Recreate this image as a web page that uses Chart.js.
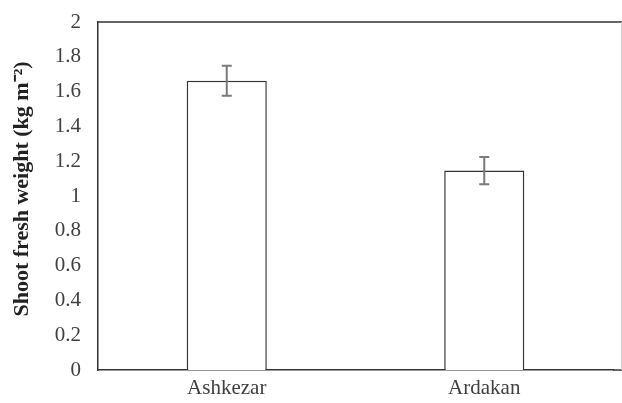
<!DOCTYPE html>
<html>
<head>
<meta charset="utf-8">
<script src="https://cdn.jsdelivr.net/npm/chart.js@4"></script>
<style>
html,body{margin:0;padding:0;background:#fff;}
#wrap{width:622px;height:403px;}
</style>
</head>
<body>
<div id="wrap"><canvas id="c"></canvas></div>
<script>
const sites = ["Ashkezar", "Ardakan"];
const weight = [1.662, 1.146];
const weightErr = [0.086, 0.078];
const yTicks = [0, 0.2, 0.4, 0.6, 0.8, 1, 1.2, 1.4, 1.6, 1.8, 2];
const yTitle = "Shoot fresh weight (kg m⁻²)";

const font = "'Liberation Serif', 'Times New Roman', serif";

// error bars, frame to the edge, y title (sits a bit above centre in the original)
const extras = {
  id: "extras",
  afterDatasetsDraw(chart) {
    const ctx = chart.ctx;
    const y = chart.scales.y;
    const meta = chart.getDatasetMeta(0);
    ctx.save();
    ctx.strokeStyle = "#7a7a7a";
    ctx.lineWidth = 2;
    meta.data.forEach((bar, i) => {
      const x = bar.x;
      const hi = y.getPixelForValue(weight[i] + weightErr[i]);
      const lo = y.getPixelForValue(weight[i] - weightErr[i]);
      ctx.beginPath();
      ctx.moveTo(x, hi); ctx.lineTo(x, lo);
      ctx.moveTo(x - 5, hi); ctx.lineTo(x + 5, hi);
      ctx.moveTo(x - 5, lo); ctx.lineTo(x + 5, lo);
      ctx.stroke();
    });
    const a = chart.chartArea;
    ctx.strokeStyle = "#333";
    ctx.lineWidth = 1.5;
    ctx.beginPath();
    ctx.moveTo(a.left, a.top); ctx.lineTo(chart.width, a.top);
    ctx.moveTo(a.right, a.bottom); ctx.lineTo(chart.width, a.bottom);
    ctx.stroke();
    ctx.strokeStyle = "#ccc";
    ctx.lineWidth = 1;
    ctx.beginPath();
    ctx.moveTo(chart.width - 0.5, a.top); ctx.lineTo(chart.width - 0.5, a.bottom);
    ctx.stroke();

    ctx.translate(22, 189);
    ctx.rotate(-Math.PI / 2);
    ctx.fillStyle = "#222";
    ctx.font = "bold 22px " + font;
    ctx.textAlign = "center";
    ctx.textBaseline = "middle";
    ctx.fillText(yTitle, 0, 0);
    ctx.restore();
  }
};

new Chart(document.getElementById("c"), {
  type: "bar",
  data: {
    labels: sites,
    datasets: [{
      data: weight,
      backgroundColor: "#fff",
      borderColor: "#333",
      borderWidth: 1.5,
      barPercentage: 0.311,
      categoryPercentage: 1
    }]
  },
  options: {
    responsive: true,
    maintainAspectRatio: false,
    animation: false,
    layout: { padding: { top: 22, right: 9, left: 0, bottom: 0 } },
    plugins: { legend: { display: false }, tooltip: { enabled: false } },
    scales: {
      x: {
        grid: { display: false, drawTicks: false },
        border: { display: true, color: "#333", width: 1.5 },
        ticks: { color: "#404040", font: { family: font, size: 21 }, padding: 6 },
        afterFit(s) { s.height = 33; s.paddingLeft = 0; s.paddingRight = 0; }
      },
      y: {
        min: 0, max: 2,
        afterBuildTicks(s) { s.ticks = yTicks.map(v => ({ value: v })); },
        grid: { display: false, drawTicks: false },
        border: { display: true, color: "#333", width: 1.5 },
        ticks: {
          color: "#404040", font: { family: font, size: 21 }, padding: 17,
          callback: v => String(v)
        },
        afterFit(s) { s.width = 98; s.paddingTop = 0; s.paddingBottom = 0; }
      }
    }
  },
  plugins: [extras]
});
</script>
</body>
</html>
